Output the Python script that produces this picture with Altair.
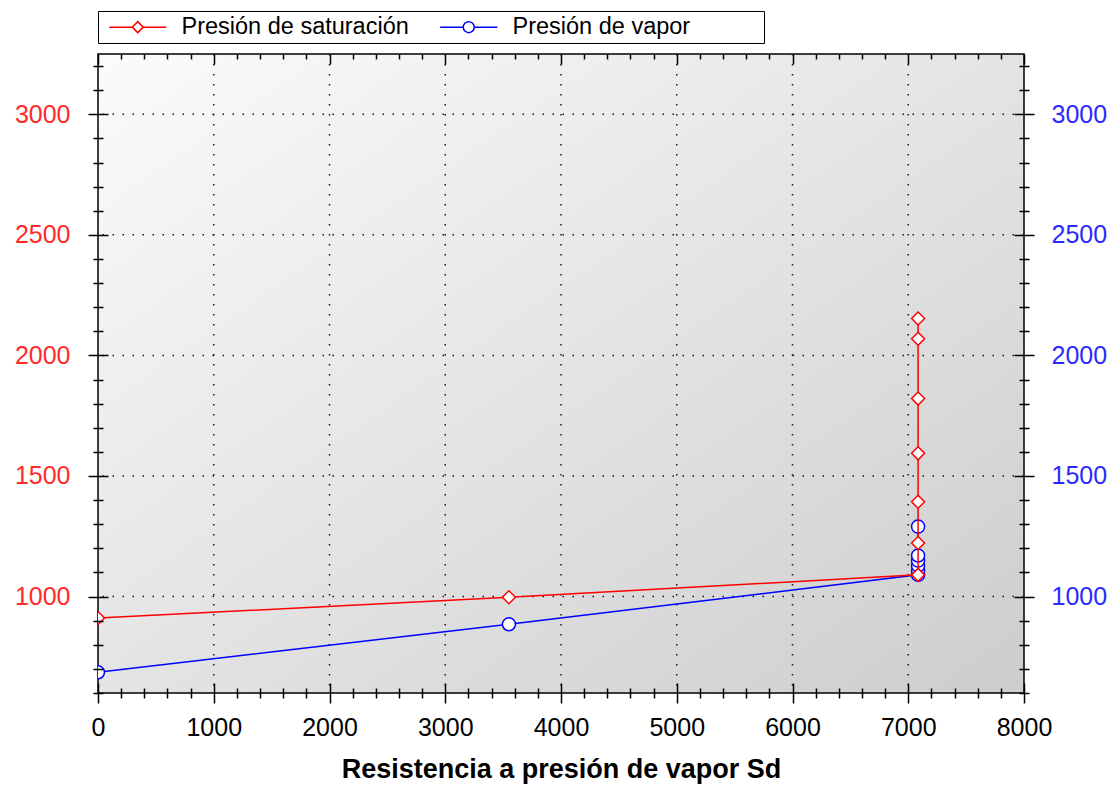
import altair as alt
import pandas as pd

# ---------------- data ----------------
series_names = ["Presión de saturación", "Presión de vapor"]
sd_sat = [0, 3550, 7085, 7085, 7085, 7085, 7085, 7085, 7085]
p_sat = [911, 997, 1090, 1222, 1393, 1594, 1821, 2069, 2153]
sd_vap = [0, 3550, 7085, 7085, 7085, 7085, 7085, 7085]
p_vap = [686, 885, 1090, 1108, 1128, 1149, 1170, 1290]

x_ticks = list(range(0, 8001, 200))
y_ticks = list(range(600, 3201, 100))
x_grid = [1000, 2000, 3000, 4000, 5000, 6000, 7000]
y_grid = [1000, 1500, 2000, 2500, 3000]
X_DOM = [0, 8000]
Y_DOM = [600, 3250]

W, H = 926, 639
FONT = "Liberation Sans"
RED = "#ff0000"
BLUE = "#0000ff"
RED_LBL = "#ff2a2a"
BLUE_LBL = "#2a2aff"

DIAMOND_PATH = "M-5.2,0L-1,0M1,0L5.2,0M0,-1L1,0L0,1L-1,0Z"
CIRCLE_PATH = "M-5.2,0L-1,0M1,0L5.2,0M1,0A1,1,0,1,1,-1,0A1,1,0,1,1,1,0Z"

sat = pd.DataFrame({"sd": sd_sat, "p": p_sat, "i": list(range(len(sd_sat)))})
vap = pd.DataFrame({"sd": sd_vap, "p": p_vap, "i": list(range(len(sd_vap)))})
both = pd.concat([sat.assign(serie=series_names[0]), vap.assign(serie=series_names[1])],
                 ignore_index=True)


def xs():
    return alt.Scale(domain=X_DOM, nice=False, zero=False)


def ys():
    return alt.Scale(domain=Y_DOM, nice=False, zero=False)


def cross_dash(step):
    return {"condition": {"test": f"datum.value % {step} === 0", "value": [30, 0]},
            "value": [0, 5, 10, 5]}


ax_bottom = alt.Axis(
    orient="bottom", values=x_ticks, offset=-10, tickSize=20, tickDash=cross_dash(1000),
    tickColor="black", tickWidth=1.5, domain=False, grid=False, format="d",
    labelExpr="datum.value % 1000 === 0 ? datum.label : ''",
    labelFont=FONT, labelFontSize=25, labelColor="black", labelPadding=12,
    labelOverlap=False, labelFlush=False,
    title="Resistencia a presión de vapor Sd", titleFont=FONT, titleFontSize=27,
    titleFontWeight="bold", titleColor="black", titlePadding=16, zindex=1)

ax_left = alt.Axis(
    orient="left", values=y_ticks, offset=-10, tickSize=20, tickDash=cross_dash(500),
    tickColor="black", tickWidth=1.5, domain=False, grid=False, format="d",
    labelExpr="datum.value % 500 === 0 ? datum.label : ''",
    labelFont=FONT, labelFontSize=25, labelColor=RED_LBL, labelPadding=18,
    labelOverlap=False, labelFlush=False, title=None, zindex=1)

ax_right = alt.Axis(
    orient="right", values=y_ticks, offset=-10, tickSize=20, tickDash=cross_dash(500),
    tickColor="black", tickWidth=1.5, domain=False, grid=False, format="d",
    labelExpr="datum.value % 500 === 0 ? datum.label : ''",
    labelFont=FONT, labelFontSize=25, labelColor=BLUE_LBL, labelPadding=17,
    labelOverlap=False, labelFlush=False, title=None, zindex=1)

ax_top = alt.Axis(
    orient="top", values=x_ticks, offset=-10, tickSize=10,
    tickDash={"condition": {"test": "datum.value % 1000 === 0", "value": [30, 0]},
              "value": [0, 5, 5, 0]},
    tickColor="black", tickWidth=1.5, domain=False, grid=False, labels=False,
    title=None, zindex=1)

leg = alt.Legend(
    title=" ", titleOrient="right", titlePadding=70, titleFontSize=10,
    orient="none", legendX=0, legendY=-43, direction="horizontal",
    columns=2, gridAlign="all", columnPadding=24, padding=4,
    strokeColor="black", fillColor="white",
    labelFont=FONT, labelFontSize=23.5, labelColor="black", labelLimit=400,
    labelOffset=32, symbolOffset=24, symbolSize=121, symbolStrokeWidth=1.5,
    symbolFillColor="white")

# legend source (hidden under the plot background)
legend_layer = alt.Chart(both).mark_point(
    fill="white", strokeWidth=1.5, size=121, opacity=1, clip=True
).encode(
    x=alt.X("sd:Q", scale=xs(), axis=None),
    y=alt.Y("p:Q", scale=ys(), axis=None),
    color=alt.Color("serie:N", scale=alt.Scale(domain=series_names, range=[RED, BLUE]),
                    legend=leg),
    shape=alt.Shape("serie:N",
                    scale=alt.Scale(domain=series_names, range=[DIAMOND_PATH, CIRCLE_PATH]),
                    legend=leg),
)

bg = alt.Chart(pd.DataFrame({"k": [0]})).mark_rect(
    fill=alt.LinearGradient(
        gradient="linear",
        stops=[alt.GradientStop(color="#fbfbfb", offset=0),
               alt.GradientStop(color="#cdcdcd", offset=1)],
        x1=0, y1=0, x2=1, y2=1),
    stroke="black", strokeWidth=1.5,
).encode(x=alt.value(0), x2=alt.value("width"), y=alt.value(0), y2=alt.value("height"))

grid_x = alt.Chart(pd.DataFrame({"g": x_grid})).mark_rule(
    color="#1a1a1a", strokeWidth=1.5, strokeDash=[1.5, 8.5]
).encode(x=alt.X("g:Q", scale=xs(), axis=None))

grid_y = alt.Chart(pd.DataFrame({"g": y_grid})).mark_rule(
    color="#1a1a1a", strokeWidth=1.5, strokeDash=[1.5, 8.5]
).encode(y=alt.Y("g:Q", scale=ys(), axis=None))

blue_line = alt.Chart(vap).mark_line(color=BLUE, strokeWidth=1.5, clip=True).encode(
    x=alt.X("sd:Q", scale=xs(), axis=ax_top),
    y=alt.Y("p:Q", scale=ys(), axis=ax_right),
    order="i:Q",
)
blue_pts = alt.Chart(vap).mark_point(
    shape="circle", size=169, fill="white", stroke=BLUE, strokeWidth=1.5, opacity=1,
    filled=True, clip=True
).encode(
    x=alt.X("sd:Q", scale=xs(), axis=None),
    y=alt.Y("p:Q", scale=ys(), axis=None),
)

red_line = alt.Chart(sat).mark_line(color=RED, strokeWidth=1.5, clip=True).encode(
    x=alt.X("sd:Q", scale=xs(), axis=ax_bottom),
    y=alt.Y("p:Q", scale=ys(), axis=ax_left),
    order="i:Q",
)
red_pts = alt.Chart(sat).mark_point(
    shape="diamond", size=169, fill="white", stroke=RED, strokeWidth=1.5, opacity=1,
    filled=True, clip=True
).encode(
    x=alt.X("sd:Q", scale=xs(), axis=None),
    y=alt.Y("p:Q", scale=ys(), axis=None),
)

chart = alt.layer(
    legend_layer, bg, grid_x, grid_y, blue_line, blue_pts, red_line, red_pts
).resolve_scale(
    x="independent", y="independent"
).properties(
    width=W, height=H,
    autosize=alt.AutoSizeParams(type="none"),
    padding={"left": 90, "top": 46, "right": 84, "bottom": 94},
).configure_view(stroke=None)

chart.save("out.html", embed_options={"renderer": "svg", "actions": False})
